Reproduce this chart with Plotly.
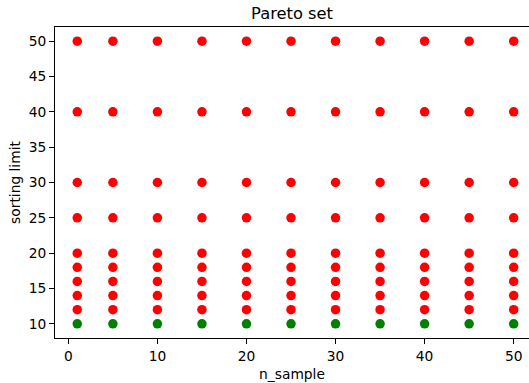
import plotly.graph_objects as go

n_samples = [1, 5, 10, 15, 20, 25, 30, 35, 40, 45, 50]
sorting_limits = [10, 12, 14, 16, 18, 20, 25, 30, 40, 50]
pareto_limits = [10]  # green points (Pareto set)

xticks = [0, 10, 20, 30, 40, 50]
yticks = [10, 15, 20, 25, 30, 35, 40, 45, 50]

red_x, red_y, green_x, green_y = [], [], [], []
for lim in sorting_limits:
    for n in n_samples:
        if lim in pareto_limits:
            green_x.append(n); green_y.append(lim)
        else:
            red_x.append(n); red_y.append(lim)

fig = go.Figure()
fig.add_trace(go.Scatter(x=red_x, y=red_y, mode="markers",
                         marker=dict(color="#ff0000", size=9.5, line=dict(width=0))))
fig.add_trace(go.Scatter(x=green_x, y=green_y, mode="markers",
                         marker=dict(color="#008000", size=9.5, line=dict(width=0))))

font = "DejaVu Sans"
W, H = 529, 383
fig.update_layout(
    width=W, height=H,
    margin=dict(l=55, r=0, t=27, b=45, autoexpand=False),
    plot_bgcolor="white", paper_bgcolor="white",
    showlegend=False,
    font=dict(family=font, color="black", size=13.8),
    title=dict(text="Pareto set", x=(292 - 55) / 474, xref="paper", xanchor="center",
               y=1 - 13 / H, yanchor="middle", yref="container",
               font=dict(size=16.3, family=font, color="black")),
)
fig.update_xaxes(range=[-1.5, 51.72], tickvals=xticks, ticks="outside",
                 ticklen=5, tickwidth=1.1, tickcolor="black",
                 showline=True, linecolor="black", linewidth=1.1, mirror=True,
                 showgrid=False, zeroline=False, automargin=False,
                 title=dict(text="n_sample", standoff=6, font=dict(size=13.8)))
fig.update_yaxes(range=[8, 52], tickvals=yticks, ticks="outside",
                 ticklen=5, tickwidth=1.1, tickcolor="black",
                 showline=True, linecolor="black", linewidth=1.1,
                 showgrid=False, zeroline=False, automargin=False,
                 title=dict(text="sorting limit", standoff=4, font=dict(size=13.8)))

fig.write_html("out.html", config={"displayModeBar": False},
               post_script="document.body.style.margin='0';document.body.style.overflow='hidden';")
